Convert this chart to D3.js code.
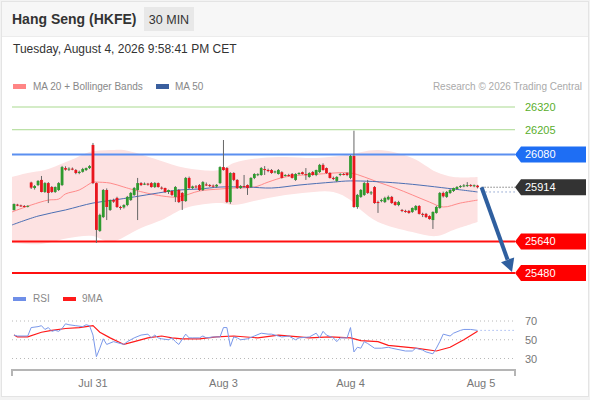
<!DOCTYPE html>
<html>
<head>
<meta charset="utf-8">
<script src="https://cdn.jsdelivr.net/npm/d3@7"></script>
<style>
body { margin: 0; background: #f3f3f3; font-family: "Liberation Sans", Arial, sans-serif; }
</style>
</head>
<body>
<svg id="chart" width="590" height="400"></svg>
<script>
// 30 min candles
const candleOpen = [25799,25826,25822,25819,25816,25938,25910,25925,25951,25890,
  25935,25915,25890,25900,25925,26011,26003,26008,26001,25986,
  25992,26001,26011,26128,25935,25693,25763,25900,25799,25849,
  25860,25814,25812,25824,25849,25875,25900,25935,25930,25932,
  25935,25915,25935,25912,25910,25890,25895,25865,25900,25885,
  25844,25961,25910,25918,25925,25900,25928,25925,25922,25918,
  25935,26016,26011,25839,25986,25951,25910,25920,25925,25915,
  25961,25976,25976,26006,26001,26001,25990,25981,25990,25972,
  25976,25981,25951,25981,25990,25980,25966,25991,25976,25991,
  26027,26011,25986,25961,25946,25976,25981,25985,25961,26072,
  25814,25865,25875,25935,25885,25915,25839,25844,25839,25852,
  25865,25839,25824,25799,25794,25794,25789,25799,25819,25779,
  25779,25768,25748,25784,25809,25885,25865,25885,25895,25905,
  25915,25920,25920,25925,25920,25922]
const candleHigh = [25832,25830,25826,25824,25822,25942,25925,25950,25971,25940,
  25940,25920,25918,25940,26022,26020,26015,26014,26006,25998,
  26012,26014,26026,26138,25938,25780,25905,25908,25852,25856,
  25866,25820,25828,25870,25890,25915,25961,25940,25938,25936,
  25940,25940,25938,25918,25912,25902,25900,25920,25905,25890,
  25966,25968,25922,25925,25930,25945,25938,25930,25928,25930,
  26020,26153,26016,25990,25990,25955,25925,25976,25928,25965,
  25985,25985,26016,26021,26008,26006,25998,26006,25995,25980,
  25982,25986,25985,25990,25993,26011,25990,25996,26003,26032,
  26035,26014,25990,25968,25970,25985,25986,25990,26077,26200,
  25880,25905,25940,25951,25895,25920,25846,25856,25866,25872,
  25870,25844,25845,25804,25800,25799,25812,25824,25824,25785,
  25784,25772,25792,25820,25890,25892,25895,25905,25912,25920,
  25925,25930,25940,25930,25928,25926]
const candleLow = [25796,25818,25815,25812,25812,25905,25902,25920,25888,25885,
  25834,25885,25885,25895,25920,25998,25996,26000,25980,25980,
  25988,25996,26006,25930,25632,25688,25758,25748,25794,25835,
  25809,25800,25806,25818,25845,25870,25748,25920,25925,25922,
  25912,25910,25912,25902,25885,25880,25870,25839,25834,25799,
  25840,25905,25905,25908,25895,25895,25920,25915,25912,25912,
  25930,25998,25834,25830,25945,25905,25905,25912,25875,25910,
  25955,25970,25972,25976,25990,25982,25984,25978,25958,25968,
  25968,25958,25946,25976,25978,25951,25962,25972,25970,25986,
  25998,25982,25958,25950,25940,25970,25974,25970,25955,25810,
  25805,25860,25870,25880,25875,25830,25784,25838,25834,25848,
  25830,25820,25818,25788,25785,25780,25784,25795,25776,25763,
  25758,25750,25703,25780,25805,25862,25860,25880,25890,25900,
  25910,25914,25915,25916,25914,25908]
const candleClose = [25829,25822,25819,25816,25820,25912,25920,25946,25890,25935,
  25885,25890,25915,25935,26016,26003,26008,26004,25986,25992,
  26006,26011,26021,25935,25698,25774,25900,25814,25849,25841,
  25814,25809,25824,25865,25885,25910,25935,25925,25932,25928,
  25915,25935,25915,25908,25890,25900,25875,25915,25839,25844,
  25961,25910,25918,25914,25900,25940,25925,25920,25918,25926,
  26016,26001,25839,25986,25951,25910,25920,25918,25910,25961,
  25981,25980,26011,26001,25996,25986,25994,26001,25961,25976,
  25972,25961,25981,25986,25981,25978,25986,25976,26001,26027,
  26001,25986,25961,25956,25966,25981,25978,25976,26072,25814,
  25875,25900,25935,25885,25888,25834,25836,25849,25860,25865,
  25834,25824,25839,25794,25789,25784,25809,25819,25779,25776,
  25763,25753,25789,25814,25885,25868,25890,25900,25910,25915,
  25920,25923,25925,25920,25924,25914]

// MA 20, MA 50 and Bollinger bands, sampled at candle indices
const ma20Idx = [0,5,10,13,15,19,23,24,28,32,35,43,48,54,60,64,70,74,79,89,98,102,106,111,116,121,125,130,135]
const ma20Val = [25789,25824,25849,25854,25880,25900,25940,25940,25935,25915,25900,25870,25865,25895,25905,25910,25915,25940,25966,25981,25986,25966,25940,25910,25875,25839,25814,25834,25849]
const ma50Idx = [0,7,15,23,29,35,42,48,54,60,68,75,83,93,98,112,128,135]
const ma50Val = [25723,25768,25799,25834,25849,25865,25885,25900,25905,25915,25915,25910,25925,25940,25946,25935,25905,25890]
const upperIdx = [0,4,9,13,18,22,28,32,42,50,60,64,72,79,88,97,106,116,123,128,135]
const upperVal = [25966,25986,26001,26027,26062,26092,26102,26102,26052,26011,26001,26037,26062,26067,26062,26077,26102,26062,25991,25966,25966]
const lowerIdx = [0,8,16,23,28,37,43,50,60,64,74,84,93,98,101,106,116,123,128,135]
const lowerVal = [25632,25627,25657,25667,25637,25708,25748,25809,25834,25824,25860,25885,25890,25849,25799,25738,25687,25667,25698,25738]

// RSI and its 9 period average
const rsiIdx = [0,1,4,5,7,8,9,10,11,12,13,14,15,16,18,20,21,22,23,24,25,26,27,29,30,32,33,35,37,39,40,41,42,43,45,46,47,48,50,51,52,54,55,56,58,60,61,62,63,64,65,66,68,70,72,74,75,77,78,80,82,83,86,88,89,90,91,93,94,95,97,98,99,100,101,102,103,105,107,109,110,114,116,117,119,120,122,123,124,125,127,128,130,131,133,135]
const rsiVal = [55,54,54,63,64,65,61,63,59,60,59,62,67,66,65,64,66,65,55,32,41,51,45,48,47,45,48,52,55,56,52,55,52,51,50,52,48,45,56,52,52,52,54,52,53,53,63,63,43,53,52,50,51,54,57,56,56,54,53,54,50,52,53,57,52,59,55,52,48,52,52,63,37,42,41,48,46,41,41,42,41,38,38,41,39,37,35,41,48,56,54,57,60,61,61,60]
const rsiMaIdx = [0,1,4,8,11,15,19,23,25,28,32,35,39,43,46,49,54,59,64,71,77,83,86,92,98,101,106,109,117,123,127,131,135]
const rsiMaVal = [55,53,53,58,60,62,63,65,58,52,45,48,52,54,52,51,51,53,54,52,55,53,52,53,52,49,48,44,41,38,42,50,59]

const levelValues = [26320, 26205, 26080, 25640, 25480]
const lastPrice = 25914
const tickIndex = [23, 61, 98, 136]
const tickLabels = ['Jul 31', 'Aug 3', 'Aug 4', 'Aug 5']
const rsiTicks = [70, 50, 30]

const svg = d3.select('#chart')
const font = '"Liberation Sans", Arial, sans-serif'

// frame
svg.append('rect').attr('x', 1.5).attr('y', 1.5).attr('width', 587).attr('height', 395)
    .attr('fill', '#fff').attr('stroke', '#e4e4e4')
svg.append('rect').attr('x', 2).attr('y', 2).attr('width', 586).attr('height', 34).attr('fill', '#f7f7f7')
svg.append('line').attr('x1', 2).attr('x2', 588).attr('y1', 36.5).attr('y2', 36.5).attr('stroke', '#ececec')

// header
svg.append('text').attr('x', 12).attr('y', 24).attr('font-size', 14).attr('font-weight', 'bold')
    .attr('fill', '#333').attr('font-family', font).text('Hang Seng (HKFE)')
svg.append('rect').attr('x', 144).attr('y', 7).attr('width', 50).attr('height', 24).attr('fill', '#e8e8e8')
svg.append('text').attr('x', 169).attr('y', 24).attr('text-anchor', 'middle').attr('font-size', 12.5)
    .attr('fill', '#333').attr('font-family', font).text('30 MIN')
svg.append('text').attr('x', 13).attr('y', 53).attr('font-size', 12)
    .attr('fill', '#333').attr('font-family', font).text('Tuesday, August 4, 2026 9:58:41 PM CET')

// legend
const legend = svg.append('g').attr('font-family', font).attr('font-size', 10).attr('fill', '#888')
legend.append('rect').attr('x', 13).attr('y', 84).attr('width', 13).attr('height', 5).attr('fill', '#ff8585')
legend.append('text').attr('x', 33).attr('y', 90).text('MA 20 + Bollinger Bands')
legend.append('rect').attr('x', 156).attr('y', 84).attr('width', 13).attr('height', 5).attr('fill', '#3a5f9e')
legend.append('text').attr('x', 175).attr('y', 90).text('MA 50')
svg.append('text').attr('x', 582).attr('y', 90).attr('text-anchor', 'end').attr('font-size', 10)
    .attr('fill', '#aaa').attr('font-family', font).text('Research \u00a9 2026 Trading Central')

// scales
const x = d3.scaleLinear().domain([0, 136]).range([14, 481])
const y = d3.scaleLinear().domain([25480, 26320]).range([273, 107])
const yr = d3.scaleLinear().domain([30, 70]).range([358.5, 321])
const plotLeft = 12, plotRight = 515

svg.append('clipPath').attr('id', 'clip').append('rect')
    .attr('x', plotLeft).attr('y', 95).attr('width', x(135) + 3 - plotLeft).attr('height', 190)

const pts = (idx, val) => idx.map((d, i) => [i == 0 ? plotLeft : x(d), y(val[i])])
const smooth = d3.line().curve(d3.curveCatmullRom.alpha(0.5))

// bollinger band fill
const upperPath = smooth(pts(upperIdx, upperVal))
const lowerPath = smooth(pts(lowerIdx, lowerVal).reverse())
svg.append('path').attr('clip-path', 'url(#clip)')
    .attr('d', upperPath + 'L' + lowerPath.slice(1) + 'Z')
    .attr('fill', '#fde2e2')

// horizontal levels
levelValues.forEach((v, i) => {
    const green = i < 2
    const blue = i == 2
    svg.append('line').attr('x1', plotLeft).attr('x2', plotRight)
        .attr('y1', y(v)).attr('y2', y(v))
        .attr('stroke', green ? '#a9d98f' : blue ? '#5b8ff0' : '#ff1010')
        .attr('stroke-width', green ? 1 : 2)
})

// moving averages
svg.append('path').attr('clip-path', 'url(#clip)').attr('d', smooth(pts(ma20Idx, ma20Val)))
    .attr('fill', 'none').attr('stroke', '#ff8a8a').attr('stroke-width', 1)
svg.append('path').attr('clip-path', 'url(#clip)').attr('d', smooth(pts(ma50Idx, ma50Val)))
    .attr('fill', 'none').attr('stroke', '#4c6fb3').attr('stroke-width', 1)
svg.append('line').attr('x1', x(135) + 4).attr('x2', plotRight)
    .attr('y1', y(ma50Val[ma50Val.length - 1])).attr('y2', y(ma50Val[ma50Val.length - 1]))
    .attr('stroke', '#4c6fb3').attr('stroke-dasharray', '1,3')

// candles
const candles = svg.append('g')
candleOpen.forEach((o, i) => {
    const c = candleClose[i]
    const cx = x(i)
    candles.append('line').attr('x1', cx).attr('x2', cx)
        .attr('y1', y(candleHigh[i])).attr('y2', y(candleLow[i]))
        .attr('stroke', '#666').attr('stroke-width', 1)
    const top = y(Math.max(o, c)), bottom = y(Math.min(o, c))
    candles.append('rect').attr('x', cx - 1.4).attr('width', 2.8)
        .attr('y', top).attr('height', Math.max(bottom - top, 1))
        .attr('fill', c >= o ? '#2f9a2f' : '#e8161e')
})

// last price
svg.append('line').attr('x1', x(135) + 4).attr('x2', plotRight)
    .attr('y1', y(lastPrice)).attr('y2', y(lastPrice))
    .attr('stroke', '#444').attr('stroke-dasharray', '1,2')

// labels on the right
function tag(v, color) {
    const cy = y(v)
    svg.append('path')
        .attr('d', `M515,${cy} L521,${cy - 8} L586,${cy - 8} L586,${cy + 8} L521,${cy + 8} Z`)
        .attr('fill', color)
    svg.append('text').attr('x', 525).attr('y', cy + 4).attr('font-size', 11)
        .attr('fill', '#fff').attr('font-family', font).text(v)
}
levelValues.forEach((v, i) => {
    if (i < 2) {
        svg.append('text').attr('x', 525).attr('y', y(v) + 4).attr('font-size', 11)
            .attr('fill', '#5aae2c').attr('font-family', font).text(v)
    } else {
        tag(v, i == 2 ? '#1e6ef4' : '#ff0000')
    }
})
tag(lastPrice, '#333')

// target arrow
const start = [x(135) + 4, y(lastPrice)]
const tip = [512, y(levelValues[4]) - 1]
const dx = tip[0] - start[0], dy = tip[1] - start[1]
const len = Math.hypot(dx, dy)
const ux = dx / len, uy = dy / len
const base = [tip[0] - ux * 13, tip[1] - uy * 13]
svg.append('line').attr('x1', start[0]).attr('y1', start[1]).attr('x2', base[0]).attr('y2', base[1])
    .attr('stroke', '#2f5f9f').attr('stroke-width', 4)
svg.append('path')
    .attr('d', `M${tip[0]},${tip[1]} L${base[0] - uy * 7},${base[1] + ux * 7} L${base[0] + uy * 7},${base[1] - ux * 7} Z`)
    .attr('fill', '#2f5f9f')

// RSI panel
const rsiLegend = svg.append('g').attr('font-family', font).attr('font-size', 10).attr('fill', '#888')
rsiLegend.append('rect').attr('x', 13).attr('y', 297).attr('width', 13).attr('height', 4).attr('fill', '#6f8fe8')
rsiLegend.append('text').attr('x', 33).attr('y', 302).text('RSI')
rsiLegend.append('rect').attr('x', 63).attr('y', 297).attr('width', 13).attr('height', 4).attr('fill', '#ff1a1a')
rsiLegend.append('text').attr('x', 82).attr('y', 302).text('9MA')

rsiTicks.forEach(t => {
    svg.append('line').attr('x1', plotLeft).attr('x2', plotRight).attr('y1', yr(t)).attr('y2', yr(t))
        .attr('stroke', '#b8b8b8').attr('stroke-dasharray', '1,3')
    svg.append('text').attr('x', 525).attr('y', yr(t) + 4).attr('font-size', 11)
        .attr('fill', '#777').attr('font-family', font).text(t)
})

const rsiLine = d3.line().x(d => x(d[0])).y(d => yr(d[1]))
svg.append('path').attr('d', rsiLine(rsiMaIdx.map((d, i) => [d, rsiMaVal[i]])))
    .attr('fill', 'none').attr('stroke', '#ff1a1a').attr('stroke-width', 1.2)
svg.append('path').attr('d', rsiLine(rsiIdx.map((d, i) => [d, rsiVal[i]])))
    .attr('fill', 'none').attr('stroke', '#7a98ea').attr('stroke-width', 1)
svg.append('line').attr('x1', x(135) + 3).attr('x2', plotRight)
    .attr('y1', yr(rsiVal[rsiVal.length - 1])).attr('y2', yr(rsiVal[rsiVal.length - 1]))
    .attr('stroke', '#7a98ea').attr('stroke-dasharray', '1,3')

// time axis
const axis = svg.append('g').attr('transform', 'translate(0,370)')
axis.append('line').attr('x1', plotLeft).attr('x2', plotRight + 1).attr('stroke', '#b5b5b5').attr('stroke-width', 2)
axis.append('line').attr('x1', plotLeft).attr('x2', plotLeft).attr('y1', -1).attr('y2', 6)
    .attr('stroke', '#b5b5b5').attr('stroke-width', 2)
axis.append('line').attr('x1', plotRight).attr('x2', plotRight).attr('y1', -1).attr('y2', 6)
    .attr('stroke', '#b5b5b5').attr('stroke-width', 2)
tickIndex.forEach((t, i) => {
    axis.append('text').attr('x', x(t)).attr('y', 16.5).attr('text-anchor', 'middle')
        .attr('font-size', 11).attr('fill', '#777').attr('font-family', font).text(tickLabels[i])
})
</script>
</body>
</html>
